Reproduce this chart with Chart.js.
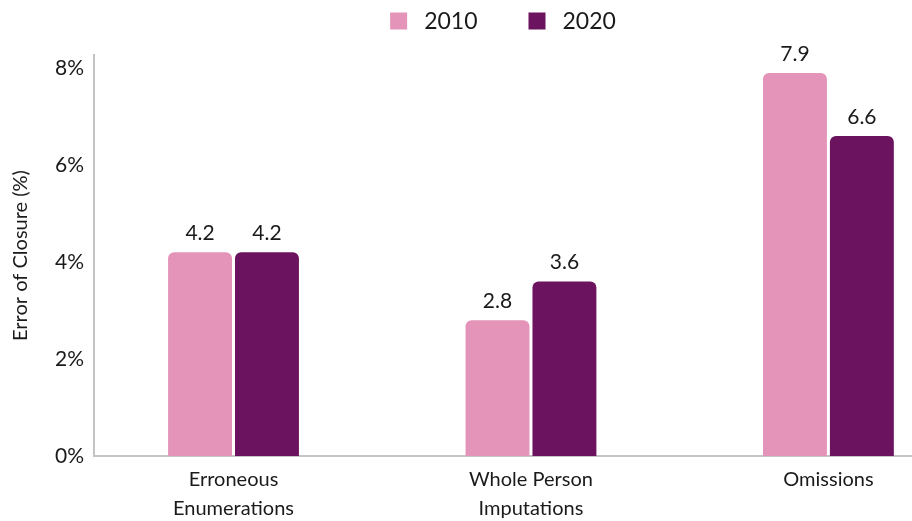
<!DOCTYPE html>
<html>
<head>
<meta charset="utf-8">
<script src="https://cdn.jsdelivr.net/npm/chart.js@4"></script>
<style>
html,body{margin:0;padding:0;background:#fff;}
#wrap{width:912px;height:521px;position:relative;}
</style>
</head>
<body>
<div id="wrap"><canvas id="c"></canvas></div>
<script>
const categories = [["Erroneous","Enumerations"],["Whole Person","Imputations"],["Omissions"]];
const seriesNames = ["2010","2020"];
const values2010 = [4.2, 2.8, 7.9];
const values2020 = [4.2, 3.6, 6.6];
const yTicks = [0, 2, 4, 6, 8];

const FONT = "Lato, 'Open Sans', sans-serif";
const TEXT = "#1a1a1a";
const COLORS = ['#e394b8', '#6c135f'];

const valueLabels = {
  id: 'valueLabels',
  afterDatasetsDraw(chart) {
    const ctx = chart.ctx;
    ctx.save();
    ctx.font = "21px " + FONT;
    ctx.fillStyle = TEXT;
    ctx.textAlign = 'center';
    ctx.textBaseline = 'alphabetic';
    chart.data.datasets.forEach((ds, di) => {
      const meta = chart.getDatasetMeta(di);
      meta.data.forEach((bar, i) => {
        ctx.fillText(ds.data[i].y.toFixed(1), bar.x, bar.y - 12);
      });
    });
    ctx.restore();
  }
};

const topLegend = {
  id: 'topLegend',
  afterDraw(chart) {
    const ctx = chart.ctx;
    ctx.save();
    ctx.font = "23px " + FONT;
    ctx.textBaseline = 'middle';
    ctx.textAlign = 'left';
    const box = 17, gapText = 17, gapItem = 51, cy = 21;
    const items = chart.data.datasets.map(d => ({ t: d.label, c: d.backgroundColor, w: ctx.measureText(d.label).width }));
    let total = 0;
    items.forEach((it, i) => { total += box + gapText + it.w + (i ? gapItem : 0); });
    const area = chart.chartArea;
    let x = (area.left + area.right - total) / 2;
    items.forEach((it, i) => {
      if (i) x += gapItem;
      ctx.fillStyle = it.c;
      ctx.fillRect(x, cy - box / 2, box, box);
      x += box + gapText;
      ctx.fillStyle = TEXT;
      ctx.fillText(it.t, x, cy + 1);
      x += it.w;
    });
    ctx.restore();
  }
};

new Chart(document.getElementById('c'), {
  type: 'bar',
  data: {
    datasets: [
      { label: seriesNames[0], data: values2010.map((v,i)=>({x:i,y:v})), backgroundColor: COLORS[0],
        borderRadius: {topLeft:6, topRight:6}, borderSkipped: 'bottom' },
      { label: seriesNames[1], data: values2020.map((v,i)=>({x:i,y:v})), backgroundColor: COLORS[1],
        borderRadius: {topLeft:6, topRight:6}, borderSkipped: 'bottom' }
    ]
  },
  options: {
    responsive: true,
    maintainAspectRatio: false,
    animation: false,
    layout: { padding: { left: 0, right: 0, top: 55, bottom: 0 } },
    plugins: {
      legend: { display: false },
      tooltip: { enabled: false }
    },
    datasets: { bar: { categoryPercentage: 0.45, barPercentage: 0.955 } },
    scales: {
      x: {
        type: 'linear',
        min: -0.469,
        max: 2.281,
        offset: false,
        grid: { display: false, drawTicks: false },
        border: { display: true, color: '#c4c4c4', width: 2 },
        afterBuildTicks: (s) => { s.ticks = categories.map((c,i)=>({value:i})); },
        afterFit: (s) => { s.height = 65; },
        ticks: {
          padding: 9,
          color: TEXT,
          font: { family: FONT, size: 20, lineHeight: 1.45 },
          maxRotation: 0,
          autoSkip: false,
          callback: (v) => categories[v]
        }
      },
      y: {
        min: 0,
        max: 8.27,
        grid: { display: false, drawTicks: false },
        border: { display: true, color: '#c4c4c4', width: 2 },
        afterBuildTicks: (s) => { s.ticks = yTicks.map(v=>({value:v})); },
        afterFit: (s) => { s.width = 94; },
        ticks: {
          padding: 10,
          color: TEXT,
          font: { family: FONT, size: 21 },
          callback: (v) => v + '%'
        },
        title: { display: true, text: 'Error of Closure (%)', color: TEXT, font: { family: FONT, size: 20 }, padding: { top: 9, bottom: 0 } }
      }
    }
  },
  plugins: [valueLabels, topLegend]
});
</script>
</body>
</html>
